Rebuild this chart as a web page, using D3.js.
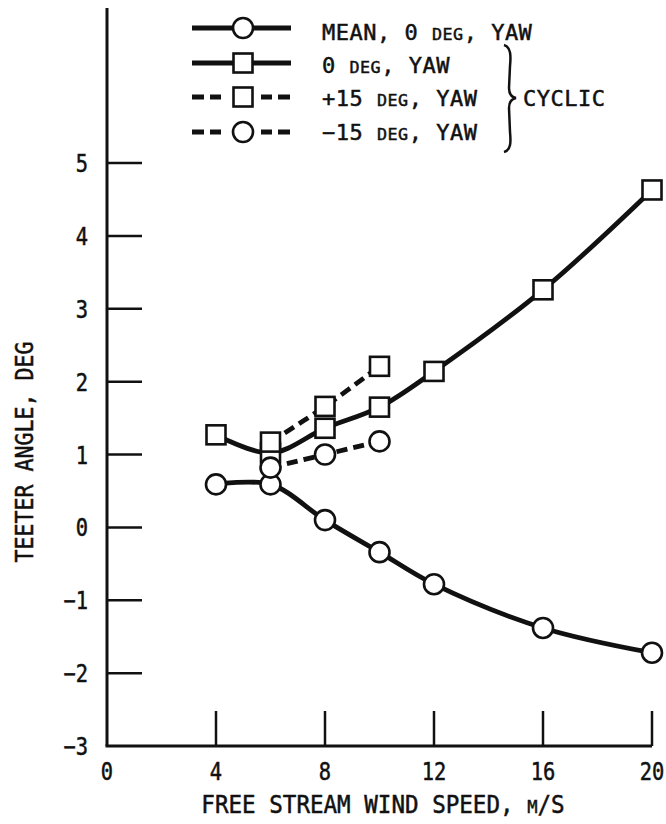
<!DOCTYPE html>
<html>
<head>
<meta charset="utf-8">
<script src="https://cdn.jsdelivr.net/npm/d3@7"></script>
<style>
  html, body { margin: 0; padding: 0; background: #fff; }
  svg { display: block; }
  text { font-family: "DejaVu Sans Mono", monospace; fill: #111; stroke: #111; stroke-width: 0.5px; }
</style>
</head>
<body>
<svg id="chart" width="666" height="824"></svg>
<script>
// Wind speeds (m/s) and teeter angles (deg)
const speeds = [4, 6, 8, 10, 12, 16, 20];
const meanZeroYaw = [0.59, 0.59, 0.10, -0.34, -0.78, -1.38, -1.72];
const cyclicZeroYaw = [1.27, 1.02, 1.36, 1.65, 2.14, 3.26, 4.63];
const yawSpeeds = [6, 8, 10];
const cyclicPlus15 = [1.17, 1.66, 2.21];
const cyclicMinus15 = [0.82, 1.00, 1.18];

const xTicks = [0, 4, 8, 12, 16, 20];
const yTicks = [-3, -2, -1, 0, 1, 2, 3, 4, 5];

const series = [
  { name: "mean", xs: speeds, ys: meanZeroYaw, marker: "circle", dashed: false },
  { name: "cyc0", xs: speeds, ys: cyclicZeroYaw, marker: "square", dashed: false },
  { name: "cycP15", xs: yawSpeeds, ys: cyclicPlus15, marker: "square", dashed: true },
  { name: "cycM15", xs: yawSpeeds, ys: cyclicMinus15, marker: "circle", dashed: true }
];

const svg = d3.select("#chart");
const ink = "#111";

const x = d3.scaleLinear().domain([0, 20]).range([107, 652]);
const y = d3.scaleLinear().domain([-3, 5]).range([746, 163]);

// Condensed typewriter-style text made of plain / small-cap runs
function label(parent, px, py, parts, opt) {
  const o = Object.assign({ size: 22, small: 0.76, anchor: "start", sx: 1, rotate: 0, spacing: 0 }, opt);
  const t = parent.append("text")
    .attr("transform", `translate(${px},${py}) rotate(${o.rotate}) scale(${o.sx},1)`)
    .attr("text-anchor", o.anchor)
    .style("font-size", o.size + "px")
    .style("letter-spacing", o.spacing + "px");
  parts.forEach(p => {
    const isSmall = Array.isArray(p);
    t.append("tspan")
      .style("font-size", (isSmall ? o.size * o.small : o.size) + "px")
      .text(isSmall ? p[0] : p);
  });
  return t;
}

// Axes
const axes = svg.append("g").attr("stroke", ink).attr("fill", "none");
axes.append("line").attr("x1", x(0)).attr("x2", x(0)).attr("y1", 8).attr("y2", y(-3)).attr("stroke-width", 3);
axes.append("line").attr("x1", x(0) - 1.5).attr("x2", x(20)).attr("y1", y(-3)).attr("y2", y(-3)).attr("stroke-width", 3);

yTicks.filter(v => v > -3).forEach(v => {
  axes.append("line").attr("x1", x(0)).attr("x2", x(0) + 35)
    .attr("y1", y(v)).attr("y2", y(v)).attr("stroke-width", 2.5);
});
xTicks.filter(v => v > 0).forEach(v => {
  axes.append("line").attr("x1", x(v)).attr("x2", x(v))
    .attr("y1", y(-3)).attr("y2", y(-3) - 35).attr("stroke-width", 2.5);
});

const tickLabels = svg.append("g");
yTicks.forEach(v => {
  label(tickLabels, 88, y(v) + 9, [v < 0 ? "\u2212" + Math.abs(v) : String(v)], { size: 24, anchor: "end", sx: 0.85 });
});
xTicks.forEach(v => {
  label(tickLabels, x(v), 780, [String(v)], { size: 24, anchor: "middle", sx: 0.85 });
});

// Axis titles
label(svg, 383, 813, ["FREE STREAM WIND SPEED, ", ["M"], "/S"], { size: 24, anchor: "middle", sx: 0.94 });
label(svg, 33, 452, ["TEETER ANGLE, DEG"], { size: 24, anchor: "middle", sx: 0.9, rotate: -90 });

// Series lines
const line = d3.line()
  .x(d => x(d[0]))
  .y(d => y(d[1]))
  .curve(d3.curveCatmullRom.alpha(0.5));

const lines = svg.append("g").attr("fill", "none").attr("stroke", ink);
series.forEach(s => {
  const pts = s.xs.map((v, i) => [v, s.ys[i]]);
  lines.append("path")
    .attr("d", line(pts))
    .attr("stroke-width", 4.8)
    .attr("stroke-dasharray", s.dashed ? "11,6" : null);
});

// Markers
function marker(g, type, cx, cy) {
  if (type === "circle") {
    g.append("circle").attr("cx", cx).attr("cy", cy).attr("r", 10);
  } else {
    g.append("rect").attr("x", cx - 9.5).attr("y", cy - 9.5).attr("width", 19).attr("height", 19);
  }
}
const marks = svg.append("g").attr("fill", "#fff").attr("stroke", ink).attr("stroke-width", 2.6);
series.forEach(s => {
  s.xs.forEach((v, i) => marker(marks, s.marker, x(v), y(s.ys[i])));
});

// Legend
const legend = svg.append("g");
const legendRows = [
  { s: series[0], cy: 28, base: 40, text: ["MEAN, 0 ", ["DEG"], ", YAW"] },
  { s: series[1], cy: 63, base: 73, text: ["0 ", ["DEG"], ", YAW"] },
  { s: series[2], cy: 97, base: 106, text: ["+15 ", ["DEG"], ", YAW"] },
  { s: series[3], cy: 132, base: 140, text: ["\u221215 ", ["DEG"], ", YAW"] }
];
legendRows.forEach(r => {
  const lg = legend.append("g");
  lg.append("line").attr("x1", 192).attr("x2", 291).attr("y1", r.cy).attr("y2", r.cy)
    .attr("stroke", ink).attr("stroke-width", 4.8)
    .attr("stroke-dasharray", r.s.dashed ? "12,6,11,40,11,6,12" : null);
  const mg = lg.append("g").attr("fill", "#fff").attr("stroke", ink).attr("stroke-width", 2.6);
  marker(mg, r.s.marker, 243, r.cy);
  label(lg, 322, r.base, r.text, { size: 22, spacing: 0.5 });
});

// Brace grouping the cyclic entries
legend.append("path")
  .attr("d", "M504,45 C511,47 511,56 510,66 L509,88 C509,94 511,97 516,98 C511,99 509,102 509,108 L510,132 C511,142 511,150 504,152")
  .attr("fill", "none").attr("stroke", ink).attr("stroke-width", 2.5);
label(legend, 523, 106, ["CYCLIC"], { size: 22, spacing: 0.5 });
</script>
</body>
</html>
